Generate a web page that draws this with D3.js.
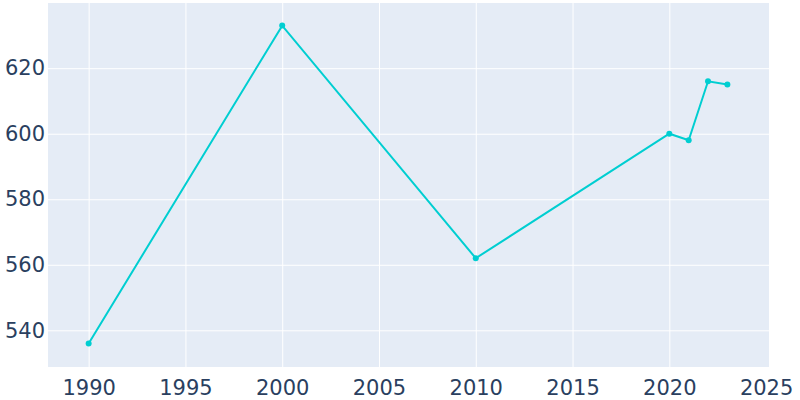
<!DOCTYPE html>
<html><head><meta charset="utf-8">
<script src="https://cdn.jsdelivr.net/npm/d3@7"></script>
<style>body{margin:0;background:#fff}svg{display:block}</style>
</head><body>
<svg id="c" width="800" height="400"></svg>
<script>
const years = [1990, 2000, 2010, 2020, 2021, 2022, 2023];
const values = [536, 633, 562, 600, 598, 616, 615];
const xTicks = [1990, 1995, 2000, 2005, 2010, 2015, 2020, 2025];
const yTicks = [540, 560, 580, 600, 620];

const svg = d3.select("#c");
const L = 48, R = 769, T = 3, B = 367;
const x = d3.scaleLinear().domain([1987.9, 2025.15]).range([L, R]);
const y = d3.scaleLinear().domain([528.8, 639.9]).range([B, T]);
const font = "'DejaVu Sans', sans-serif";

svg.append("rect").attr("x", L).attr("y", T).attr("width", R - L).attr("height", B - T).attr("fill", "#E5ECF6");

const gx = svg.append("g").attr("transform", `translate(0,${B})`)
  .call(d3.axisBottom(x).tickValues(xTicks).tickFormat(d3.format("d")).tickSize(-(B - T)).tickPadding(13));
gx.select(".domain").remove();
gx.selectAll(".tick line").attr("stroke", "#fff").attr("stroke-width", 1)
  .attr("display", d => (R - x(d) < 5 ? "none" : null));
gx.selectAll(".tick text").attr("fill", "#2a3f5f").style("font-family", font).style("font-size", "21px");

const gy = svg.append("g").attr("transform", `translate(${L},0)`)
  .call(d3.axisLeft(y).tickValues(yTicks).tickFormat(d3.format("d")).tickSize(-(R - L)).tickPadding(3));
gy.select(".domain").remove();
gy.selectAll(".tick line").attr("stroke", "#fff").attr("stroke-width", 1);
gy.selectAll(".tick text").attr("fill", "#2a3f5f").style("font-family", font).style("font-size", "21px");

const pts = years.map((d, i) => [d, values[i]]);
svg.append("path").datum(pts)
  .attr("fill", "none").attr("stroke", "#00CED1").attr("stroke-width", 2)
  .attr("d", d3.line().x(d => x(d[0])).y(d => y(d[1])));
svg.selectAll("circle.p").data(pts).enter().append("circle")
  .attr("cx", d => x(d[0])).attr("cy", d => y(d[1])).attr("r", 3).attr("fill", "#00CED1");
</script>
</body></html>
